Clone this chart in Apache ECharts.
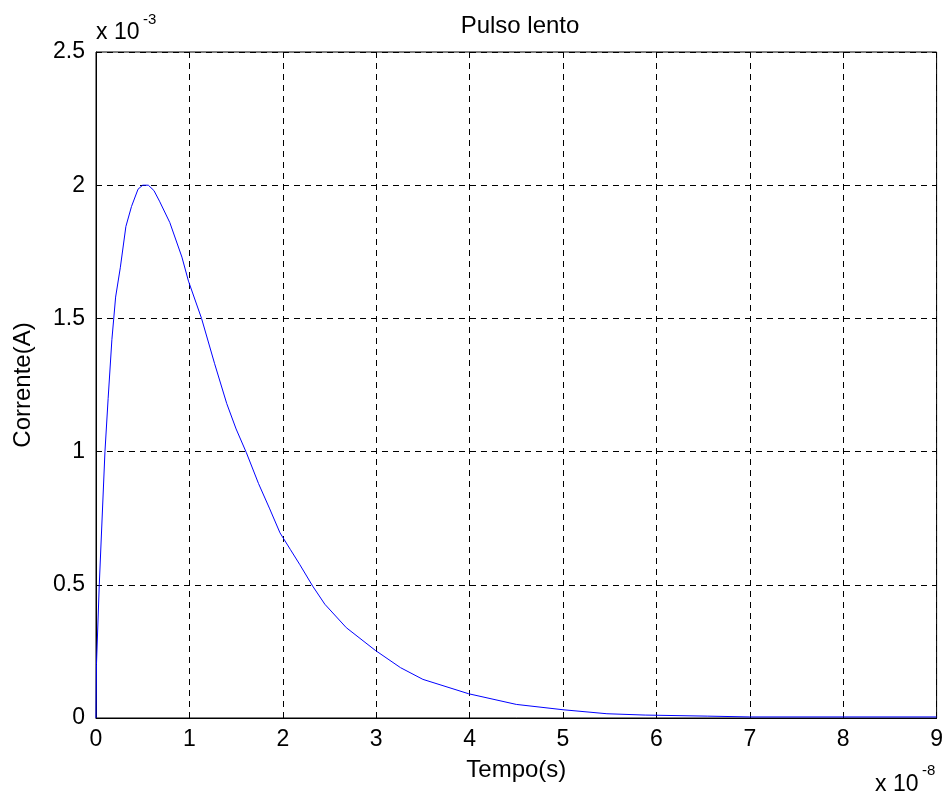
<!DOCTYPE html>
<html>
<head>
<meta charset="utf-8">
<script src="https://cdn.jsdelivr.net/npm/echarts@6/dist/echarts.min.js"></script>
<style>
  html, body { margin: 0; padding: 0; background: #fff; }
  #chart { width: 946px; height: 798px; }
</style>
</head>
<body>
<div id="chart"></div>
<script>
// tempo em unidades de 1e-8 s
const tempo = [0, 0.005, 0.035, 0.096, 0.13, 0.17, 0.21, 0.26, 0.32, 0.38, 0.45, 0.5, 0.56, 0.62, 0.68,
  0.79, 0.92, 0.99, 1.13, 1.27, 1.4, 1.5, 1.61, 1.74, 1.86, 1.97, 2.08, 2.18, 2.32, 2.45, 2.68,
  2.99, 3.26, 3.5, 3.99, 4.5, 5.0, 5.47, 5.88, 6.55, 7, 8, 9];
// corrente em unidades de 1e-3 A
const corrente = [0, 0.2, 0.5, 1.0, 1.2, 1.42, 1.58, 1.69, 1.845, 1.92, 1.985, 2.0, 2.0, 1.98, 1.94,
  1.86, 1.73, 1.64, 1.5, 1.33, 1.18, 1.085, 0.996, 0.88, 0.785, 0.695, 0.633, 0.577, 0.495, 0.427, 0.339,
  0.254, 0.189, 0.145, 0.091, 0.051, 0.031, 0.016, 0.011, 0.007, 0.004, 0.004, 0.004];

const chart = echarts.init(document.getElementById('chart'));
const fonte = 'Liberation Sans, Arial, sans-serif';

const option = {
  animation: false,
  title: {
    text: 'Pulso lento',
    left: 515,
    top: 9,
    textAlign: 'center',
    textStyle: { fontFamily: fonte, fontSize: 24, fontWeight: 'normal', color: '#000' }
  },
  grid: {
    left: 96, right: 9, top: 52, bottom: 80,
    show: true, borderColor: '#000', borderWidth: 1, backgroundColor: '#fff'
  },
  xAxis: {
    type: 'value',
    min: 0, max: 9, interval: 1,
    name: 'Tempo(s)',
    nameLocation: 'middle',
    nameGap: 40,
    nameTextStyle: { fontFamily: fonte, fontSize: 24, color: '#000' },
    axisLine: { show: true, onZero: false, lineStyle: { color: '#000', width: 1 } },
    axisTick: { show: false },
    axisLabel: { margin: 10, fontFamily: fonte, fontSize: 23, color: '#000' },
    splitLine: { show: true, lineStyle: { color: '#000', type: [6, 5], width: 1 } }
  },
  yAxis: {
    type: 'value',
    min: 0, max: 2.5, interval: 0.5,
    name: 'Corrente(A)',
    nameLocation: 'middle',
    nameGap: 61,
    nameTextStyle: { fontFamily: fonte, fontSize: 24, color: '#000' },
    axisLine: { show: true, lineStyle: { color: '#000', width: 1 } },
    axisTick: { show: false },
    axisLabel: { margin: 11, fontFamily: fonte, fontSize: 23, color: '#000' },
    splitLine: { show: true, lineStyle: { color: '#000', type: [6, 5], width: 1 } }
  },
  graphic: [
    { type: 'text', left: 96, top: 21, style: { text: 'x 10', font: '23px ' + fonte, fill: '#000' } },
    { type: 'text', left: 143, top: 12, style: { text: '-3', font: '15px ' + fonte, fill: '#000' } },
    { type: 'text', left: 875, top: 773, style: { text: 'x 10', font: '23px ' + fonte, fill: '#000' } },
    { type: 'text', left: 922, top: 763, style: { text: '-8', font: '15px ' + fonte, fill: '#000' } }
  ],
  series: [{
    type: 'line',
    data: tempo.map((t, i) => [t, corrente[i]]),
    showSymbol: false,
    lineStyle: { color: '#0000ff', width: 1 },
    z: 3
  }]
};
chart.setOption(option);
</script>
</body>
</html>
